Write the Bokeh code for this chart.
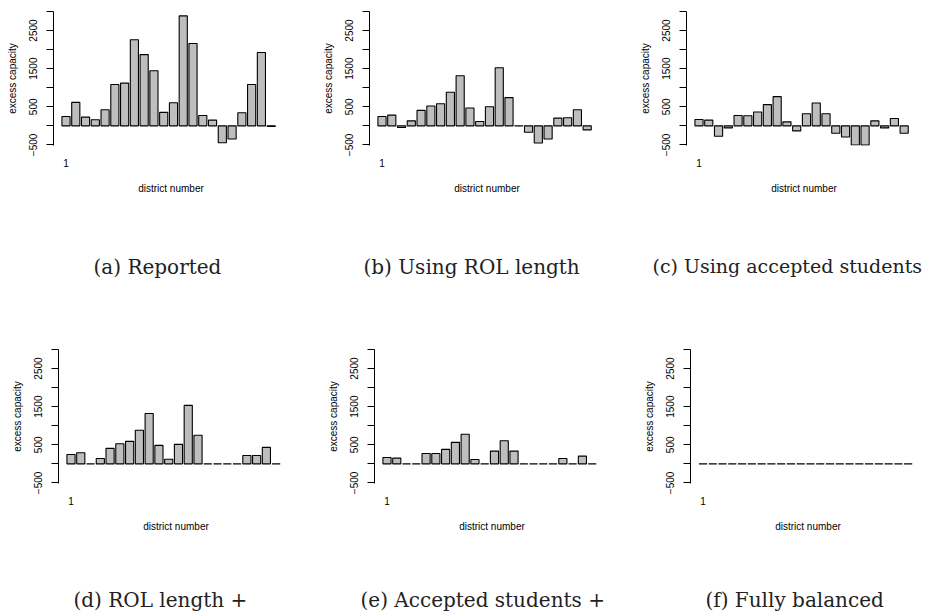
from bokeh.plotting import figure
from bokeh.models import Range1d, FixedTicker, Title
from bokeh.layouts import column, row
from bokeh.embed import file_html
from bokeh.resources import INLINE

# ---------------- data ----------------
districts = list(range(1, 23))
reported = [247, 617, 229, 159, 423, 1085, 1120, 2258, 1870, 1446, 353, 608,
            2884, 2161, 273, 150, -441, -344, 344, 1085, 1923, -15]
rol_length = [247, 282, -44, 132, 406, 520, 582, 882, 1314, 467, 115, 503,
              1526, 741, 5, -168, -450, -344, 203, 212, 423, -106]
accepted = [168, 150, -273, -53, 273, 265, 362, 556, 767, 106, -132, 318,
            600, 318, -194, -291, -500, -505, 132, -53, 194, -194]
rol_plus = [247, 291, 0, 141, 406, 529, 591, 882, 1323, 485, 123, 512,
            1535, 750, 0, 0, 0, 0, 220, 220, 432, 0]
accepted_plus = [168, 150, 0, 0, 273, 273, 379, 564, 776, 115, 0, 335,
                 608, 335, 0, 0, 0, 0, 141, 0, 203, 0]
balanced = [0, 0, 0, 0, 0, 0, 0, 0, 0, 0, 0, 0,
            0, 0, 0, 0, 0, 0, 0, 0, 0, 0]

y_ticks = [-500, 0, 500, 1000, 1500, 2000, 2500, 3000]
y_labels = {-500: "\u2212500", 0: "", 500: "500", 1000: "", 1500: "1500",
            2000: "", 2500: "2500", 3000: ""}
x_tick_labels = {1: "1"}

captions = ["(a) Reported", "(b) Using ROL length", "(c) Using accepted students",
            "(d) ROL length +", "(e) Accepted students +", "(f) Fully balanced"]

PX_PER_UNIT = 9.77
FIRST_CENTER_PX = 12.5
FRAME_H = 134
FRAME_W = 235
SANS = "Liberation Sans"


def panel(vals, caption, width, left, top, bottom, cap_offset, cap_standoff,
          cap_size="20px"):
    x0 = 1 - FIRST_CENTER_PX / PX_PER_UNIT
    right = width - left - FRAME_W
    p = figure(frame_width=FRAME_W, frame_height=FRAME_H,
               min_border_left=left, min_border_right=right,
               min_border_top=top, min_border_bottom=bottom,
               x_range=Range1d(x0, x0 + FRAME_W / PX_PER_UNIT),
               y_range=Range1d(-515, 3000),
               output_backend="svg", toolbar_location=None,
               outline_line_color=None, title=None)
    p.xgrid.visible = False
    p.ygrid.visible = False

    p.vbar(x=districts, top=vals, bottom=0, width=1 / 1.2,
           fill_color="#bebebe", line_color="black", line_width=1.1)

    ya = p.yaxis[0]
    ya.ticker = FixedTicker(ticks=y_ticks)
    ya.major_label_overrides = y_labels
    ya.major_label_orientation = "vertical"
    ya.major_label_text_font = SANS
    ya.major_label_text_font_size = "10px"
    ya.major_label_text_color = "black"
    ya.major_label_standoff = 9
    ya.major_tick_out = 7
    ya.major_tick_in = 0
    ya.minor_tick_line_color = None
    ya.axis_line_color = "black"
    ya.major_tick_line_color = "black"
    ya.axis_label = "excess capacity"
    ya.axis_label_text_font = SANS
    ya.axis_label_text_font_size = "10px"
    ya.axis_label_text_font_style = "normal"
    ya.axis_label_text_color = "black"
    ya.axis_label_standoff = 9

    xa = p.xaxis[0]
    xa.ticker = FixedTicker(ticks=[1])
    xa.major_label_overrides = x_tick_labels
    xa.axis_line_color = None
    xa.major_tick_line_color = None
    xa.minor_tick_line_color = None
    xa.major_tick_out = 0
    xa.major_tick_in = 0
    xa.major_label_standoff = 13
    xa.major_label_text_font = SANS
    xa.major_label_text_font_size = "10px"
    xa.major_label_text_color = "black"
    xa.axis_label = "district number"
    xa.axis_label_text_font = SANS
    xa.axis_label_text_font_size = "10px"
    xa.axis_label_text_font_style = "normal"
    xa.axis_label_text_color = "black"
    xa.axis_label_standoff = 13

    t = Title(text=caption, align="left", offset=cap_offset, standoff=cap_standoff,
              text_font="DejaVu Serif", text_font_size=cap_size,
              text_font_style="normal", text_color="#222222")
    p.add_layout(t, "below")
    return p


# top row: frames at x = 53, 369, 686 ; bottom row: x = 58, 374, 690
fa = panel(reported, captions[0], 316, 53, 11, 201, 40, 112)
fb = panel(rol_length, captions[1], 316, 53, 11, 201, -6, 112)
fc = panel(accepted, captions[2], 294, 54, 11, 201, -34, 112, "19px")
fd = panel(rol_plus, captions[3], 316, 58, 3, 130, 15, 102)
fe = panel(accepted_plus, captions[4], 316, 58, 3, 130, -14, 102)
ff = panel(balanced, captions[5], 294, 58, 3, 130, 15, 102)

layout = column(row(fa, fb, fc), row(fd, fe, ff))

open("out.html", "w").write(file_html(layout, INLINE))
